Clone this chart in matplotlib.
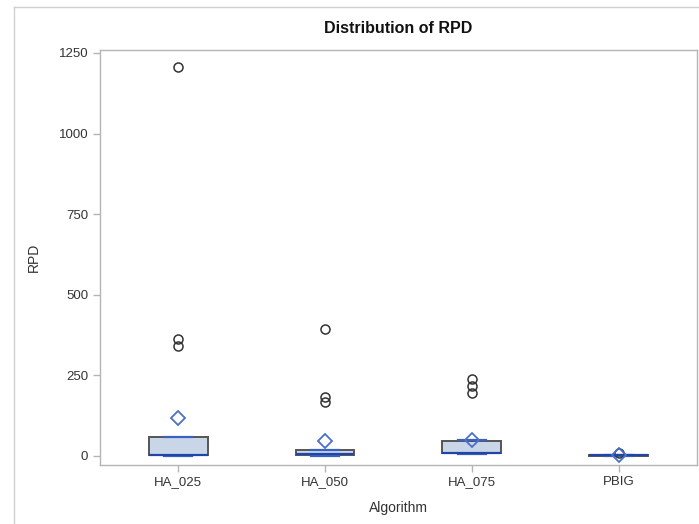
import matplotlib
matplotlib.use("Agg")
import matplotlib.pyplot as plt
from matplotlib.lines import Line2D

plt.rcParams['font.family'] = ['Liberation Sans', 'DejaVu Sans']

# Summary statistics of RPD per algorithm
algorithms = ["HA_025", "HA_050", "HA_075", "PBIG"]
q1 = [2, 3, 8, 1]
median = [3, 6, 10, 2]
q3 = [59, 18, 46, 3]
whisker_low = [0, 1, 5, 0]
whisker_high = [60, 20, 50, 4]
mean = [118, 47, 50, 2]
outliers = [[1205, 363, 341], [394, 183, 166], [240, 218, 196], [8]]
y_ticks = [0, 250, 500, 750, 1000, 1250]

stats = []
for i, name in enumerate(algorithms):
    stats.append(dict(label=name, q1=q1[i], med=median[i], q3=q3[i],
                      whislo=whisker_low[i], whishi=whisker_high[i],
                      mean=mean[i], fliers=outliers[i]))

fig = plt.figure(figsize=(6.99, 5.24), dpi=100)
ax = fig.add_axes([0.143, 0.1126, 0.854, 0.792])

dark_blue = "#1f45a8"
cap_blue = "#3a60c0"
frame_gray = "#b4b4b4"

ax.bxp(stats, positions=range(1, len(algorithms) + 1), widths=0.4,
       showmeans=True, patch_artist=True, capwidths=0.19,
       boxprops=dict(facecolor="#c9d6e8", edgecolor="#555555", linewidth=1.4),
       medianprops=dict(color=dark_blue, linewidth=1.6),
       whiskerprops=dict(color=dark_blue, linewidth=1.4),
       capprops=dict(color=cap_blue, linewidth=1.6),
       meanprops=dict(marker="D", markerfacecolor="none", markeredgecolor="#4a70c8",
                      markersize=7, markeredgewidth=1.3),
       flierprops=dict(marker="o", markerfacecolor="none", markeredgecolor="#333333",
                       markersize=6.5, markeredgewidth=1.1))

ax.set_xlim(0.466, 4.534)
ax.set_ylim(-28, 1259)
ax.set_yticks(y_ticks)
ax.set_xticks(range(1, len(algorithms) + 1))
ax.set_xticklabels(algorithms)

for s in ax.spines.values():
    s.set_color(frame_gray)
    s.set_linewidth(1.0)
ax.tick_params(axis="both", colors=frame_gray, labelcolor="#333333",
               labelsize=9.5, length=5, width=1.0)
ax.tick_params(axis="x", pad=3)

ax.set_xlabel("Algorithm", fontsize=10, color="#333333", labelpad=9)
ax.set_ylabel("RPD", fontsize=10, color="#333333", labelpad=13)
ax.set_title("Distribution of RPD", fontsize=11.5, fontweight="bold",
             color="#111111", pad=12)

# Outer graph border
fig.add_artist(Line2D([14 / 699, 14 / 699], [0, 1 - 7 / 524],
                      transform=fig.transFigure, color="#d0d0d0", linewidth=1.0))
fig.add_artist(Line2D([14 / 699, 1], [1 - 7 / 524, 1 - 7 / 524],
                      transform=fig.transFigure, color="#d0d0d0", linewidth=1.0))

fig.savefig("out.png", dpi=100, facecolor="white")
